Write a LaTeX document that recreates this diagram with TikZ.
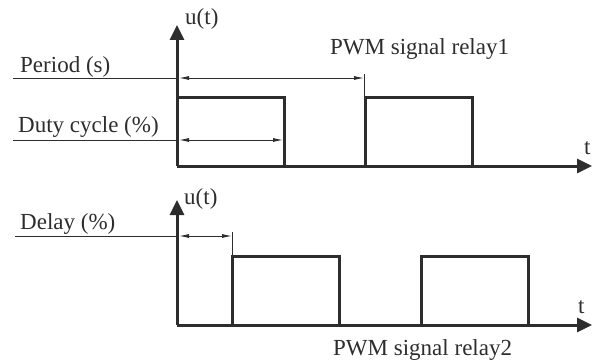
\documentclass[tikz,border=0pt]{standalone}
\usepackage{fontspec}
\setmainfont{Liberation Serif}
\usetikzlibrary{arrows.meta, positioning}
\definecolor{signalgray}{RGB}{45,45,45}

\begin{document}
\begin{tikzpicture}[x=1pt, y=-1pt,
        axis/.style={draw=signalgray, line width=3pt, -{Triangle[length=15pt, width=14pt]}},
        pulse/.style={draw=signalgray, line width=3pt, line join=miter},
        guide/.style={draw=signalgray, line width=0.9pt},
        dim/.style={guide, {Latex[length=10pt, width=4pt]}-{Latex[length=10pt, width=4pt]}},
        label/.style={font=\fontsize{23}{26}\selectfont, text=signalgray, inner sep=0pt, anchor=base west}
    ]
        \useasboundingbox (0,0) rectangle (594,361);

        % relay 1
        \coordinate (o1) at (177,166);
        \coordinate (y1) at (177,25);
        \coordinate (x1) at (592,166);
        \coordinate (per0) at (13,78);
        \coordinate (perA) at (179,78);
        \coordinate (perB) at (364,78);
        \coordinate (duty0) at (13,140);
        \coordinate (dutyA) at (179,140);
        \coordinate (dutyB) at (283,140);

        \draw[guide] (per0) -- (perA);
        \draw[dim] (perA) -- (perB);
        \draw[guide] (perB) ++(0,-4) -- (364,97);
        \draw[guide] (duty0) -- (dutyA);
        \draw[dim] (dutyA) -- (dutyB);

        \foreach \s in {177,365}
            \draw[pulse] (\s,166) -- (\s,97) -- (\s+107,97) -- (\s+107,166);
        \draw[axis] (o1) -- (x1);
        \draw[axis] (o1) -- (y1);

        \node[label] (u1) at (185,25) {u(t)};
        \node[label] (t1) at (584,154) {t};
        \node[label] (period) at (20,72) {Period (s)};
        \node[label] (duty) at (18,132) {Duty cycle (\%)};
        \node[label] (relay1) at (330,55) {PWM signal relay1};

        % relay 2
        \coordinate (o2) at (177,325);
        \coordinate (y2) at (177,200);
        \coordinate (x2) at (592,325);
        \coordinate (del0) at (15,236);
        \coordinate (delA) at (179,236);
        \coordinate (delB) at (232,236);

        \draw[guide] (del0) -- (delA);
        \draw[dim] (delA) -- (delB);
        \draw[guide] (delB) ++(0,-4) -- (232,256);

        \foreach \s in {232,421}
            \draw[pulse] (\s,325) -- (\s,256) -- (\s+107,256) -- (\s+107,325);
        \draw[axis] (o2) -- (x2);
        \draw[axis] (o2) -- (y2);

        \node[label] (u2) at (184,204) {u(t)};
        \node[label] (t2) at (578,313) {t};
        \node[label] (delay) at (20,229) {Delay (\%)};
        \node[label] (relay2) at (333,355) {PWM signal relay2};
    \end{tikzpicture}
\end{document}
